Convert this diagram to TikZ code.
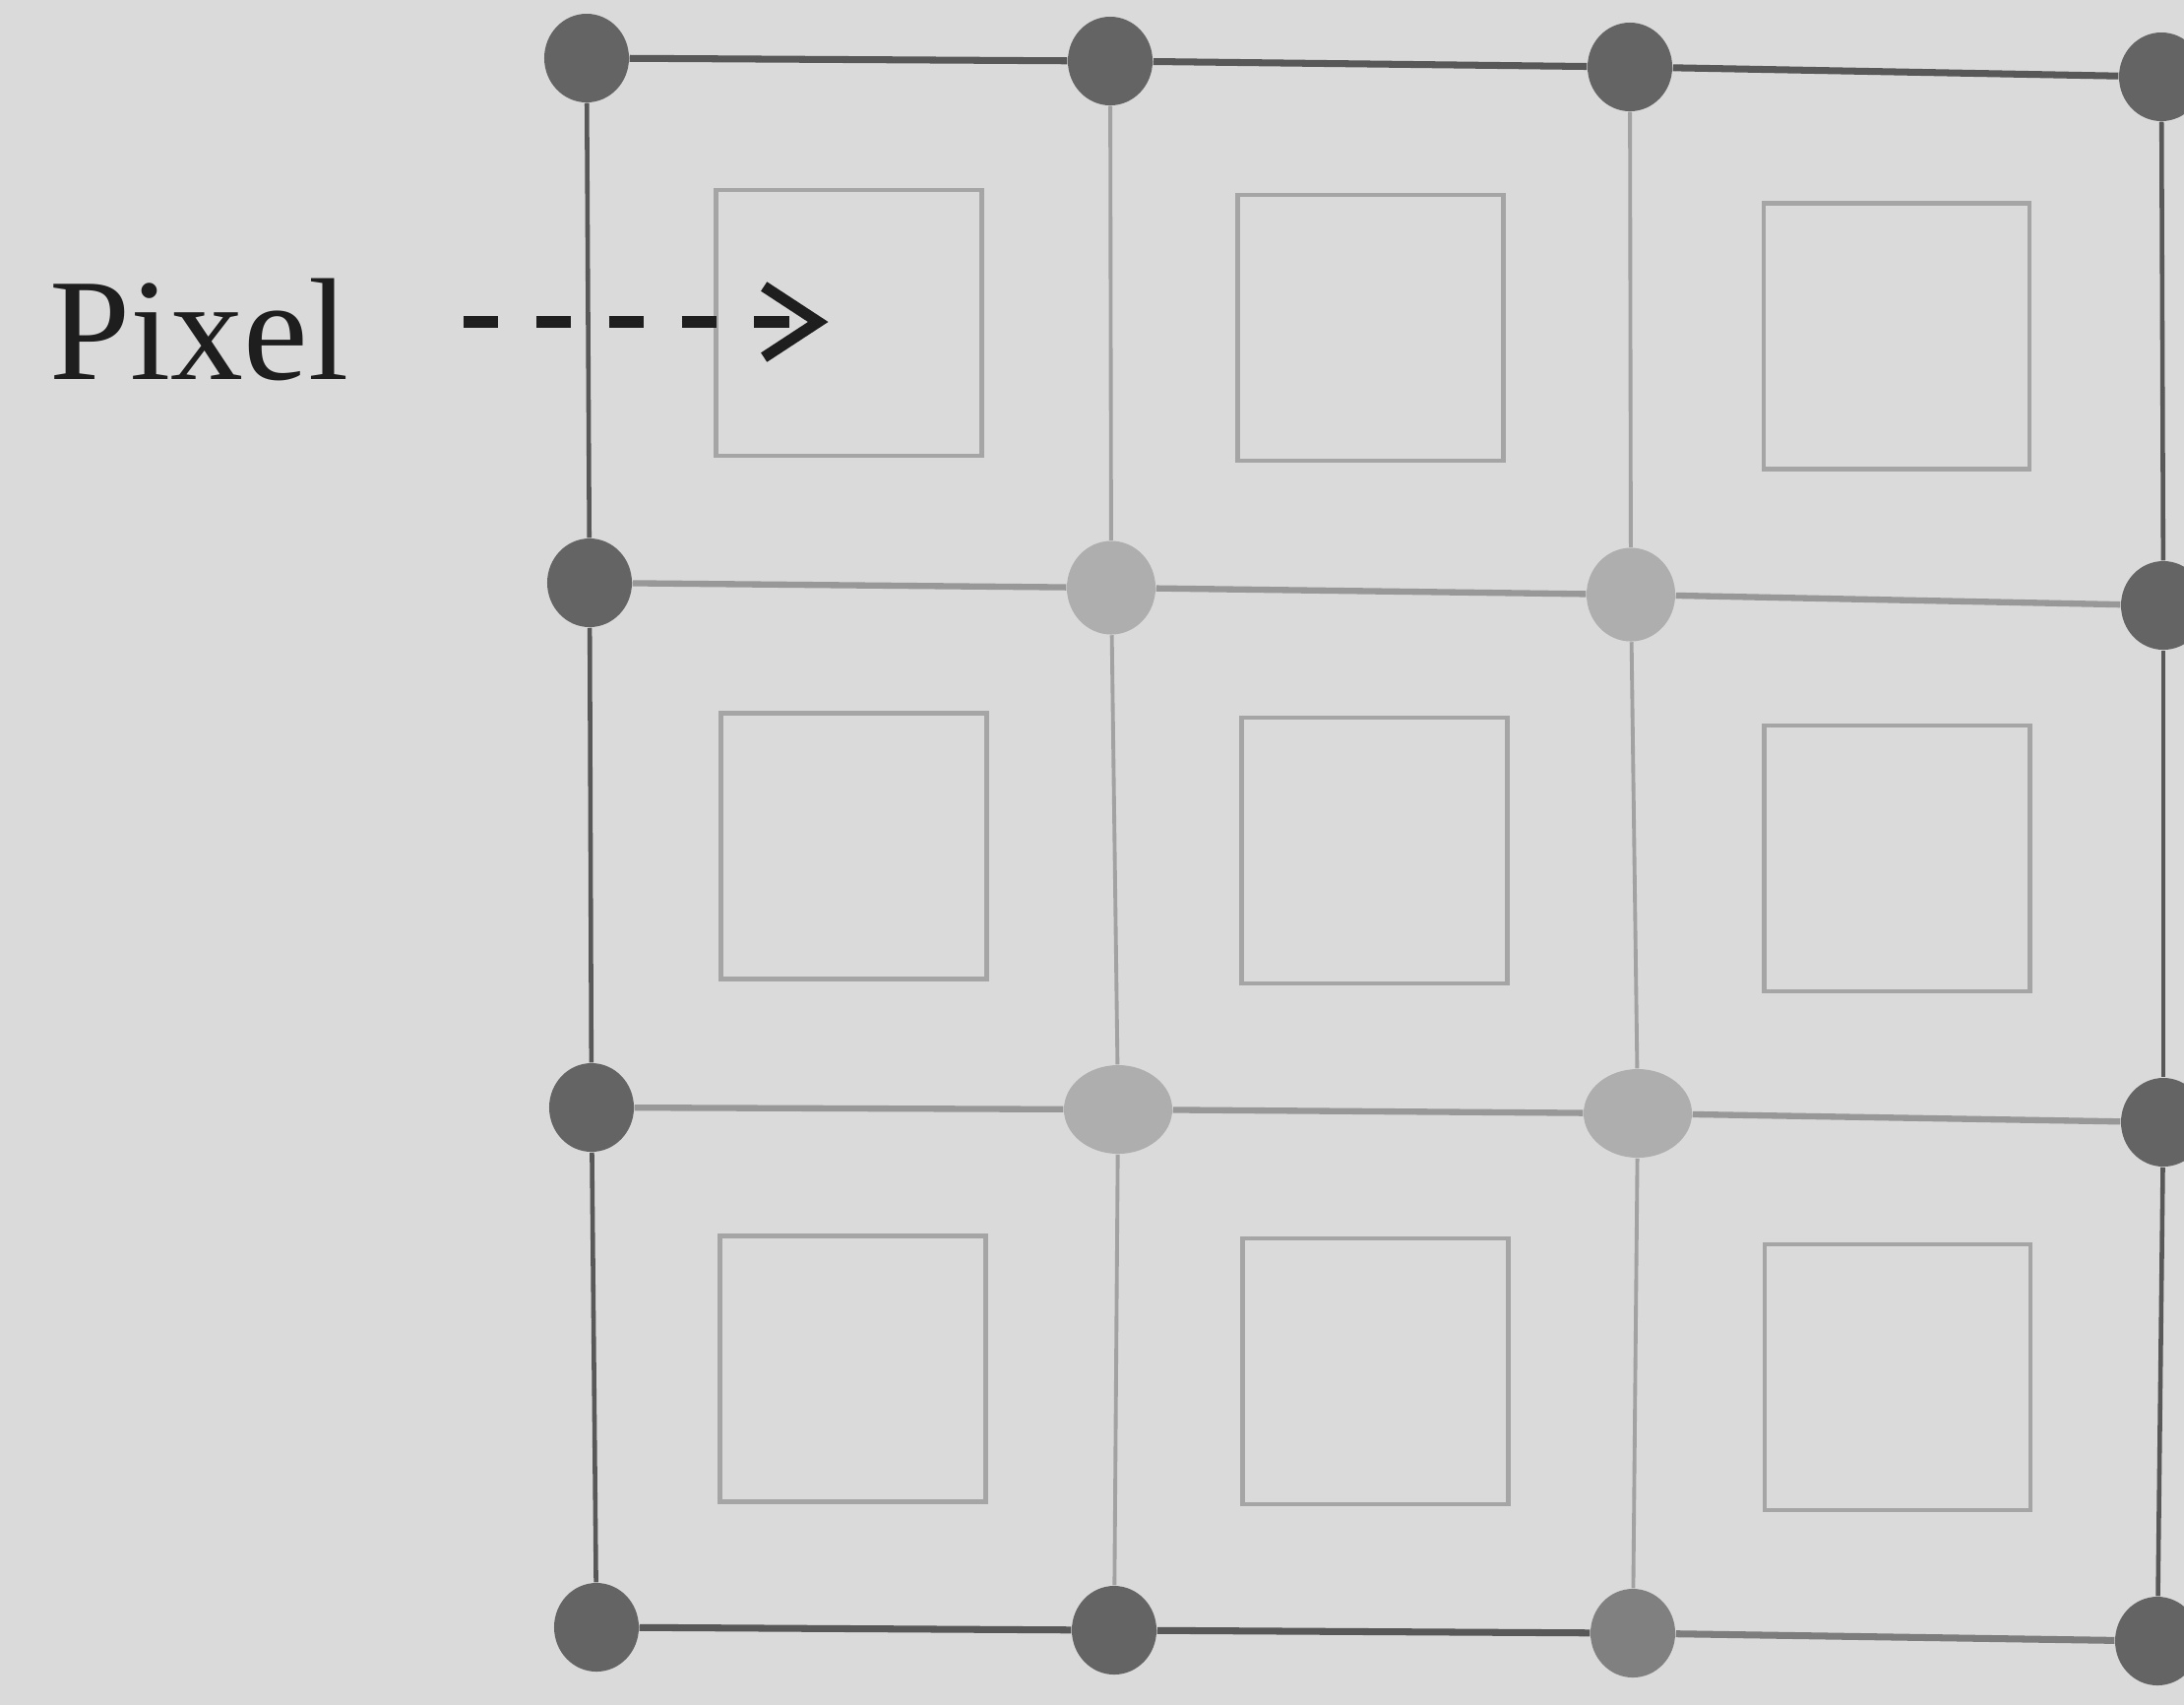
\documentclass[tikz,border=0pt]{standalone}
\usepackage{fontspec}
\setmainfont{Liberation Serif}
\usetikzlibrary{calc,arrows.meta,shapes.geometric}

\definecolor{paper}{RGB}{218,218,218}
\definecolor{ink}{RGB}{30,30,30}
\definecolor{dotdark}{RGB}{100,100,100}
\definecolor{dotmid}{RGB}{128,128,128}
\definecolor{dotlight}{RGB}{174,174,174}
\definecolor{edgeline}{RGB}{88,88,88}
\definecolor{edgesoft}{RGB}{125,125,125}
\definecolor{innerline}{RGB}{152,152,152}
\definecolor{boxline}{RGB}{165,165,165}

\begin{document}
\begin{tikzpicture}[x=0.01cm,y=-0.01cm,
  vertex/.style={ellipse,inner sep=0pt,minimum width=0.86cm,minimum height=0.9cm},
  darkdot/.style={vertex,fill=dotdark},
  middot/.style={vertex,fill=dotmid},
  lightdot/.style={vertex,fill=dotlight,minimum width=0.9cm,minimum height=0.95cm},
  widedot/.style={lightdot,minimum width=1.1cm,minimum height=0.9cm},
  outer/.style={draw=edgeline,line width=2pt},
  outersoft/.style={draw=edgesoft,line width=2pt},
  outerthin/.style={draw=edgeline,line width=1.3pt},
  innerh/.style={draw=innerline,line width=1.8pt},
  innerv/.style={draw=innerline!85!paper,line width=1.1pt},
  pixbox/.style={rectangle,draw=boxline,line width=1.3pt,minimum size=2.7cm,inner sep=0pt},
  dasharrow/.style={draw=ink,line width=3.2pt,dash pattern=on 10pt off 11pt,
    -{Straight Barb[length=0.55cm,width=0.72cm]}},
  labeltext/.style={anchor=base west,inner sep=0pt,text=ink,font=\fontsize{42}{50}\selectfont}
]
\fill[paper] (0,0) rectangle (2219,1732);
\useasboundingbox (0,0) rectangle (2219,1732);
\clip (0,0) rectangle (2219,1732);

% lattice vertices
\node[darkdot]  (d00) at (596,59)    {};
\node[darkdot]  (d01) at (1128,62)   {};
\node[darkdot]  (d02) at (1656,68)   {};
\node[darkdot]  (d03) at (2196,78)   {};
\node[darkdot]  (d10) at (599,592)   {};
\node[lightdot] (d11) at (1129,597)  {};
\node[lightdot] (d12) at (1657,604)  {};
\node[darkdot]  (d13) at (2198,615)  {};
\node[darkdot]  (d20) at (601,1125)  {};
\node[widedot]  (d21) at (1136,1127) {};
\node[widedot]  (d22) at (1664,1131) {};
\node[darkdot]  (d23) at (2198,1140) {};
\node[darkdot]  (d30) at (606,1653)  {};
\node[darkdot]  (d31) at (1132,1656) {};
\node[middot]   (d32) at (1659,1659) {};
\node[darkdot]  (d33) at (2192,1667) {};

% outer frame
\draw[outer] (d00) -- (d01);
\draw[outer] (d01) -- (d02);
\draw[outer] (d02) -- (d03);
\draw[outer] (d30) -- (d31);
\draw[outer] (d31) -- (d32);
\draw[outersoft] (d32) -- (d33);
\draw[outerthin] (d00) -- (d10);
\draw[outerthin] (d10) -- (d20);
\draw[outerthin] (d20) -- (d30);
\draw[outerthin] (d03) -- (d13);
\draw[outerthin] (d13) -- (d23);
\draw[outerthin] (d23) -- (d33);

% interior lines
\foreach \r in {1,2}{
  \draw[innerh] (d\r0) -- (d\r1);
  \draw[innerh] (d\r1) -- (d\r2);
  \draw[innerh] (d\r2) -- (d\r3);
}
\foreach \c in {1,2}{
  \draw[innerv] (d0\c) -- (d1\c);
  \draw[innerv] (d1\c) -- (d2\c);
  \draw[innerv] (d2\c) -- (d3\c);
}

% pixel cells, centred between diagonal vertices
\node[pixbox] (px11) at ($(d00)!0.5!(d11)$) {};
\node[pixbox] (px12) at ($(d01)!0.5!(d12)$) {};
\node[pixbox] (px13) at ($(d02)!0.5!(d13)$) {};
\node[pixbox] (px21) at ($(d10)!0.5!(d21)$) {};
\node[pixbox] (px22) at ($(d11)!0.5!(d22)$) {};
\node[pixbox] (px23) at ($(d12)!0.5!(d23)$) {};
\node[pixbox] (px31) at ($(d20)!0.5!(d31)$) {};
\node[pixbox] (px32) at ($(d21)!0.5!(d32)$) {};
\node[pixbox] (px33) at ($(d22)!0.5!(d33)$) {};

% label and pointer
\node[labeltext] (lbl) at (50,385) {Pixel};
\coordinate (tip) at ($(px11.center)+(-21,-1)$);
\coordinate (tail) at ($(tip -| lbl.east)+(116,0)$);
\draw[dasharrow] (tail) -- (tip);
\end{tikzpicture}
\end{document}
